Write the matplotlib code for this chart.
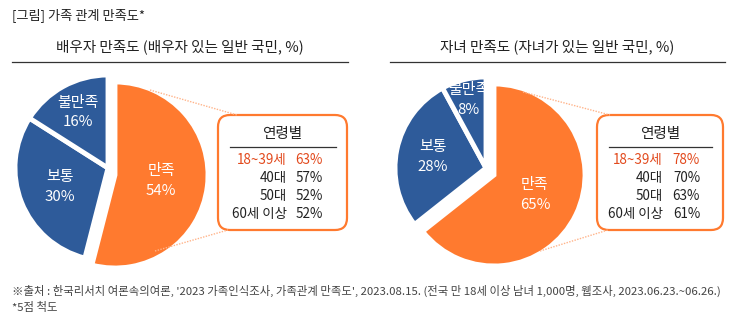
import numpy as np
import matplotlib
matplotlib.use("Agg")
import matplotlib.pyplot as plt
from matplotlib.patches import FancyBboxPatch

plt.rcParams['font.family'] = ['Noto Sans CJK KR', 'DejaVu Sans']

W, H = 743, 324

# ---- data ----
categories = ["만족", "보통", "불만족"]
spouse_vals = [54, 30, 16]
child_vals = [65, 28, 8]
age_groups = ["18~39세", "40대", "50대", "60세 이상"]
spouse_age = [63, 57, 52, 52]
child_age = [78, 70, 63, 61]

ORANGE = "#FF7A2F"
BLUE = "#2E5B9A"
RED = "#E2491C"
LIGHT = "#FFB48A"

fig = plt.figure(figsize=(W / 100, H / 100), dpi=100)
ax = fig.add_axes([0, 0, 1, 1])


def Y(y):  # pixel-from-top -> axes y
    return H - y


def draw_pie(vals, cx, cy, r, shift, label_r):
    wedges, _ = ax.pie(vals, colors=[ORANGE, BLUE, BLUE], startangle=90,
                       counterclock=False, center=(cx, Y(cy)), radius=r,
                       wedgeprops=dict(edgecolor="white", linewidth=3.5))
    wedges[0].set_center((cx + shift[0], Y(cy) - shift[1]))
    total = sum(vals)
    a0 = 90.0
    for i, (name, v) in enumerate(zip(categories, vals)):
        span = 360.0 * v / total
        mid = np.deg2rad(a0 - span / 2)
        a0 -= span
        dx = shift[0] if i == 0 else 0
        dy = shift[1] if i == 0 else 0
        tx = cx + dx + label_r[i] * r * np.cos(mid)
        ty = Y(cy) - dy + label_r[i] * r * np.sin(mid)
        ax.text(tx, ty, f"{name}\n{v}%", color="white", fontsize=10.8,
                fontweight="medium", ha="center", va="center", linespacing=1.5)


def draw_box(x0, x1, ages, vals, lab_x, val_x, lines):
    box = FancyBboxPatch((x0, Y(230)), x1 - x0, 115,
                         boxstyle="round,pad=0,rounding_size=12",
                         facecolor="white", edgecolor=ORANGE, linewidth=1.6)
    ax.add_patch(box)
    xc = (x0 + x1) / 2
    ax.text(xc, Y(134), "연령별", fontsize=10.5, ha="center", va="center", color="#222")
    ax.plot([x0 + 12, x1 - 11], [Y(146.5), Y(146.5)], color="#333", lw=0.9)
    for k, (a, v) in enumerate(zip(ages, vals)):
        yy = Y(160 + 18 * k)
        c = RED if k == 0 else "#222"
        ax.text(lab_x, yy, a, fontsize=9.7, ha="right", va="center", color=c)
        ax.text(val_x, yy, f"{v}%", fontsize=9.7, ha="right", va="center", color=c)
    for (p, q) in lines:
        ax.plot([p[0], q[0]], [Y(p[1]), Y(q[1])], color=LIGHT, lw=1.0, ls=(0, (1, 1)))


draw_pie(spouse_vals, 108, 168, 93, (7, 7), [0.5, 0.56, 0.68])
draw_pie(child_vals, 486, 168, 91, (8, 7), [0.5, 0.6, 0.77])

draw_box(218, 347, age_groups, spouse_age, 287, 323,
         [((150, 90), (237, 115)), ((155, 251), (228, 230))])
draw_box(597, 723, age_groups, child_age, 663, 700,
         [((523, 92), (610, 115)), ((540, 251), (608, 230))])

# titles
ax.text(12, Y(15), "[그림] 가족 관계 만족도*", fontsize=9.5, ha="left", va="center", color="#222")
ax.text(180, Y(47), "배우자 만족도 (배우자 있는 일반 국민, %)", fontsize=10.5,
        ha="center", va="center", color="#222")
ax.text(557, Y(47), "자녀 만족도 (자녀가 있는 일반 국민, %)", fontsize=10.5,
        ha="center", va="center", color="#222")
ax.plot([12, 348], [Y(62), Y(62)], color="#333", lw=0.9)
ax.plot([390, 725], [Y(62), Y(62)], color="#333", lw=0.9)

ax.text(12, Y(291), "※출처 : 한국리서치 여론속의여론, '2023 가족인식조사, 가족관계 만족도', 2023.08.15. "
        "(전국 만 18세 이상 남녀 1,000명, 웹조사, 2023.06.23.~06.26.)",
        fontsize=8.2, ha="left", va="center", color="#444")
ax.text(12, Y(307), "*5점 척도", fontsize=8.2, ha="left", va="center", color="#444")

ax.set_xlim(0, W)
ax.set_ylim(0, H)
ax.set_aspect("auto")
ax.axis("off")

fig.savefig("out.png", dpi=100)
